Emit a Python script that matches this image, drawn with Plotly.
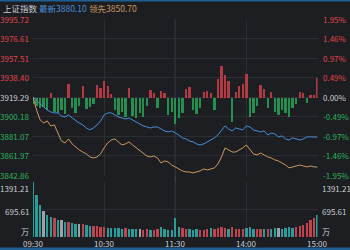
import plotly.graph_objects as go

# ---------------- data ----------------
prev_close = 3919.29
y_levels = [3995.72, 3976.61, 3957.51, 3938.40, 3919.29, 3900.18, 3881.07, 3861.97, 3842.86]
pct_labels = ["1.95%", "1.46%", "0.97%", "0.49%", "0.00%", "-0.49%", "-0.97%", "-1.46%", "-1.95%"]
vol_levels = [1391.21, 695.61]
vol_labels = ["1391.21", "695.61"]
time_ticks = [0, 60, 120, 180, 240]
time_labels = ["09:30", "10:30", "11:30", "14:00", "15:00"]

# minutes from open (3-minute samples)
minutes = list(range(0, 241, 3))

index_price = [3919.6, 3915.7, 3912.7, 3909.8, 3906.8, 3904.8, 3903.9, 3903.9, 3900.9, 3899.9,
               3901.9, 3898.9, 3896.0, 3894.0, 3892.1, 3889.1, 3887.2, 3889.1, 3892.1, 3896.0,
               3901.9, 3903.9, 3903.9, 3901.9, 3899.9, 3898.9, 3897.9, 3898.9, 3897.0, 3895.0,
               3893.0, 3891.1, 3890.1, 3889.1, 3890.1, 3890.1, 3888.1, 3886.2, 3885.2, 3886.2,
               3884.2, 3882.2, 3879.3, 3878.3, 3876.3, 3875.4, 3873.4, 3872.4, 3873.4, 3875.4,
               3877.3, 3879.3, 3882.2, 3887.2, 3891.1, 3888.1, 3886.2, 3889.1, 3888.1, 3887.2,
               3891.1, 3890.1, 3887.2, 3886.2, 3885.2, 3886.2, 3882.2, 3884.2, 3883.2, 3880.3,
               3881.3, 3878.3, 3877.3, 3879.3, 3878.3, 3877.3, 3878.3, 3880.3, 3880.3, 3880.3,
               3880.10]

lead_price = [3919.6, 3906.8, 3897.0, 3894.0, 3896.0, 3891.1, 3892.1, 3884.2, 3876.3, 3874.4,
              3878.3, 3873.4, 3870.4, 3867.5, 3865.5, 3863.6, 3860.6, 3859.6, 3860.6, 3863.6,
              3869.5, 3874.4, 3877.3, 3878.3, 3875.4, 3872.4, 3873.4, 3875.4, 3872.4, 3869.5,
              3866.5, 3863.6, 3861.6, 3860.6, 3861.6, 3859.6, 3854.7, 3856.7, 3855.7, 3852.7,
              3850.8, 3848.8, 3846.9, 3845.9, 3845.9, 3844.9, 3845.9, 3846.9, 3848.8, 3847.8,
              3848.8, 3849.8, 3853.7, 3860.6, 3869.5, 3867.5, 3865.5, 3865.5, 3867.5, 3869.5,
              3872.4, 3867.5, 3863.6, 3862.6, 3864.5, 3862.6, 3860.6, 3859.6, 3857.7, 3856.7,
              3854.7, 3852.7, 3849.8, 3850.8, 3851.7, 3852.7, 3851.7, 3850.8, 3851.7, 3850.8,
              3850.70]

strength = [-6, -8, -10, -9, -12, 5, -14, -15, -12, -16,
            14, -10, -15, -8, 12, -11, -9, -6, 13, 10,
            16, 12, 4, -12, -17, -14, -19, 10, -18, -20,
            -15, -19, -8, 8, 5, -10, 7, 5, -17, -14,
            -26, -20, -15, 9, 11, -12, -16, -10, 6, 7,
            5, -12, 18, 31, 22, 16, -24, 6, 12, 14,
            23, -19, -15, -8, 13, 9, -10, 6, -14, -17,
            -12, -15, -19, -10, -6, 6, 5, -5, 3, 3,
            19]

volume = [1391, 1060, 820, 660, 560, 500, 470, 430, 420, 380,
          390, 360, 340, 330, 320, 300, 290, 280, 270, 260,
          250, 240, 230, 220, 230, 210, 220, 200, 210, 190,
          200, 180, 190, 170, 180, 210, 250, 190, 170, 180,
          480, 260, 220, 200, 190, 180, 200, 170, 180, 190,
          220, 200, 240, 260, 230, 210, 250, 200, 190, 210,
          230, 250, 200, 190, 210, 200, 190, 210, 220, 230,
          200, 220, 250, 240, 260, 280, 300, 360, 420, 480,
          557]

vol_dir = ['d', 'd', 'd', 'n', 'd', 'd', 'u', 'd', 'n', 'd',
           'u', 'd', 'd', 'n', 'u', 'd', 'd', 'u', 'u', 'u',
           'u', 'd', 'd', 'd', 'd', 'd', 'u', 'd', 'd', 'd',
           'n', 'u', 'u', 'd', 'u', 'u', 'd', 'd', 'd', 'd',
           'd', 'd', 'u', 'u', 'd', 'd', 'd', 'u', 'u', 'u',
           'd', 'u', 'u', 'u', 'u', 'd', 'u', 'u', 'u', 'u',
           'd', 'd', 'd', 'u', 'u', 'd', 'u', 'd', 'd', 'n',
           'd', 'd', 'd', 'd', 'u', 'u', 'u', 'u', 'u', 'u',
           'd']

# ---------------- styling ----------------
W, H = 350, 250
BG = "#1d1e22"
GRID = "#2c2e33"
RED = "#e0444e"
GREEN = "#2bb35f"
NEUTRAL = "#c9ccd2"
BLUE = "#4a8fd8"
ORANGE = "#c99a60"
FONT = "Noto Sans CJK SC, Roboto, sans-serif"


def px_x(x):
    return x / W


def px_y(y):
    return 1 - y / H


X0, X1 = 33, 317.5
MAIN_TOP, MAIN_BOT = 19.5, 175
VOL_TOP, VOL_BOT = 182, 237

fig = go.Figure()

bar_alpha = ["rgba(206,62,72,0.85)" if v >= 0 else "rgba(38,165,88,0.85)" for v in strength]
fig.add_trace(go.Bar(x=minutes, y=strength, base=prev_close, marker=dict(color=bar_alpha, line=dict(width=0)),
                     width=2.0, xaxis="x", yaxis="y", hoverinfo="skip", showlegend=False))
fig.add_trace(go.Scatter(x=minutes, y=lead_price, mode="lines", line=dict(color=ORANGE, width=1),
                         xaxis="x", yaxis="y", showlegend=False))
fig.add_trace(go.Scatter(x=minutes, y=index_price, mode="lines", line=dict(color=BLUE, width=1),
                         xaxis="x", yaxis="y", showlegend=False))

vcmap = {'u': "#c0444f", 'd': "#2a9d98", 'n': "#9aa3ab"}
fig.add_trace(go.Bar(x=minutes, y=volume, marker=dict(color=[vcmap[c] for c in vol_dir], line=dict(width=0)),
                     width=2.0, xaxis="x2", yaxis="y2", hoverinfo="skip", showlegend=False))

fig.update_layout(
    width=W, height=H, margin=dict(l=0, r=0, t=0, b=0),
    paper_bgcolor=BG, plot_bgcolor=BG, showlegend=False,
    bargap=0, font=dict(family=FONT, size=8, color=NEUTRAL),
    xaxis=dict(domain=[px_x(X0), px_x(X1)], range=[0, 240], tickvals=time_ticks, showticklabels=False,
               showgrid=True, gridcolor=GRID, gridwidth=1, zeroline=False, anchor="y", fixedrange=True),
    yaxis=dict(domain=[px_y(MAIN_BOT), px_y(MAIN_TOP)], range=[y_levels[-1], y_levels[0]], tickvals=y_levels,
               showticklabels=False, showgrid=True, gridcolor=GRID, gridwidth=1, zeroline=False, anchor="x"),
    xaxis2=dict(domain=[px_x(X0), px_x(X1)], range=[0, 240], tickvals=time_ticks, showticklabels=False,
                showgrid=True, gridcolor=GRID, gridwidth=1, zeroline=False, anchor="y2", matches="x"),
    yaxis2=dict(domain=[px_y(VOL_BOT), px_y(VOL_TOP)], range=[0, vol_levels[0]], tickvals=vol_levels,
                showticklabels=False, showgrid=True, gridcolor=GRID, gridwidth=1, zeroline=False, anchor="x2"),
)

shapes = []
# brighter midday divider
shapes.append(dict(type="line", xref="x", yref="paper", x0=120, x1=120, y0=px_y(VOL_BOT), y1=px_y(MAIN_TOP),
                   line=dict(color="#45474d", width=1), layer="below"))
# top and bottom blue strips
shapes.append(dict(type="rect", xref="paper", yref="paper", x0=0, x1=1, y0=px_y(1.5), y1=1,
                   fillcolor="#1f5f94", line=dict(width=0)))
shapes.append(dict(type="rect", xref="paper", yref="paper", x0=0, x1=1, y0=0, y1=px_y(247.5),
                   fillcolor="#1f5f94", line=dict(width=0)))
fig.update_layout(shapes=shapes)

ann = []
# header
ann.append(dict(text="上证指数", x=px_x(1), y=px_y(7.5), xref="paper", yref="paper", xanchor="left",
                yanchor="middle", showarrow=False, font=dict(size=8.5, color="#c9ccd2")))
ann.append(dict(text="最新3880.10", x=px_x(37), y=px_y(7.5), xref="paper", yref="paper", xanchor="left",
                yanchor="middle", showarrow=False, font=dict(size=8.5, color=BLUE)))
ann.append(dict(text="领先3850.70", x=px_x(87), y=px_y(7.5), xref="paper", yref="paper", xanchor="left",
                yanchor="middle", showarrow=False, font=dict(size=8.5, color=ORANGE)))

for lv, pl in zip(y_levels, pct_labels):
    col = RED if lv > prev_close + 0.01 else (GREEN if lv < prev_close - 0.01 else NEUTRAL)
    ann.append(dict(text=f"{lv:.2f}", x=px_x(31), y=lv, xref="paper", yref="y", xanchor="right",
                    yanchor="middle", showarrow=False, font=dict(size=8, color=col)))
    ann.append(dict(text=pl, x=px_x(321), y=lv, xref="paper", yref="y", xanchor="left",
                    yanchor="middle", showarrow=False, font=dict(size=8, color=col)))

vol_label_y = [188, 211]
for vl, vt, py in zip(vol_levels, vol_labels, vol_label_y):
    ann.append(dict(text=vt, x=px_x(31), y=px_y(py), xref="paper", yref="paper", xanchor="right",
                    yanchor="middle", showarrow=False, font=dict(size=8, color=NEUTRAL)))
    ann.append(dict(text=vt, x=px_x(320), y=px_y(py), xref="paper", yref="paper", xanchor="left",
                    yanchor="middle", showarrow=False, font=dict(size=8, color=NEUTRAL)))
ann.append(dict(text="万", x=px_x(31), y=px_y(231), xref="paper", yref="paper", xanchor="right",
                yanchor="middle", showarrow=False, font=dict(size=8, color=NEUTRAL)))
ann.append(dict(text="万", x=px_x(320), y=px_y(231), xref="paper", yref="paper", xanchor="left",
                yanchor="middle", showarrow=False, font=dict(size=8, color=NEUTRAL)))

for tv, tl in zip(time_ticks, time_labels):
    ann.append(dict(text=tl, x=tv, y=px_y(243), xref="x", yref="paper", xanchor="center",
                    yanchor="middle", showarrow=False, font=dict(size=8, color=NEUTRAL)))

fig.update_layout(annotations=ann)
fig.write_html("out.html")
